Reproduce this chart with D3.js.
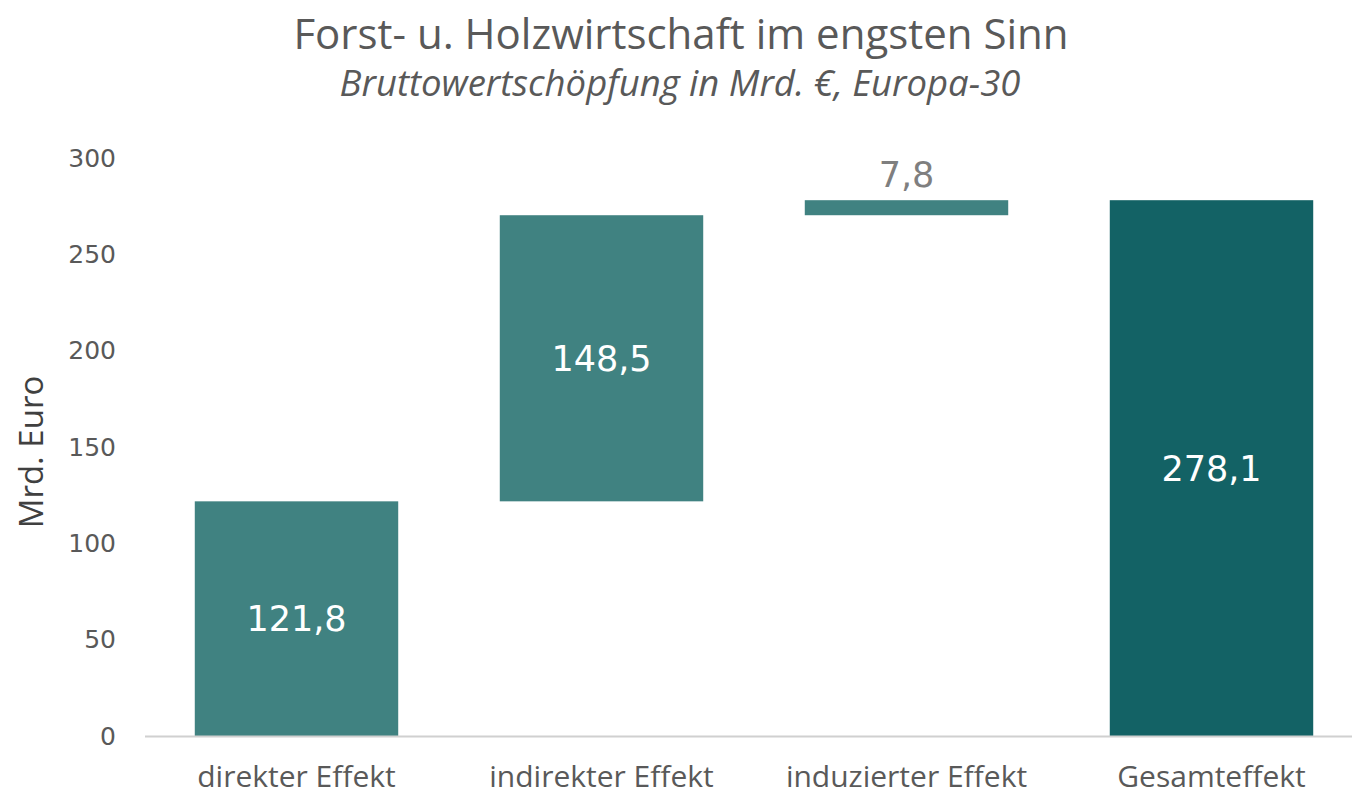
<!DOCTYPE html>
<html><head><meta charset="utf-8">
<script src="https://cdn.jsdelivr.net/npm/d3@7"></script>
<style>body{margin:0;background:#fff}svg{display:block}</style>
</head><body><svg id="c" width="1356" height="796"></svg>
<script>
const categories = ["direkter Effekt","indirekter Effekt","induzierter Effekt","Gesamteffekt"];
const values = [121.8, 148.5, 7.8, 278.1];
const isTotal = [false, false, false, true];
const labels = ["121,8","148,5","7,8","278,1"];
const yTicks = [0,50,100,150,200,250,300];
const title = "Forst- u. Holzwirtschaft im engsten Sinn";
const subtitle = "Bruttowertschöpfung in Mrd. €, Europa-30";
const yLabel = "Mrd. Euro";

// compute waterfall starts/ends
let run = 0;
const rows = categories.map((c,i)=>{
  let s, e;
  if (isTotal[i]) { s = 0; e = values[i]; }
  else { s = run; e = run + values[i]; run = e; }
  return {c, v: values[i], s, e, total: isTotal[i], label: labels[i]};
});

const svg = d3.select("#c");
const font = "'Open Sans', sans-serif";
const numFont = "'DejaVu Sans', sans-serif";
const x = d3.scaleBand().domain(categories).range([144,1364]).paddingInner(0.333).paddingOuter(0.1665);
const y = d3.scaleLinear().domain([0,300]).range([736,158]);

svg.append("text").attr("x",681).attr("y",49).attr("text-anchor","middle")
  .attr("font-family",font).attr("font-size",42).attr("fill","#595959").text(title);
svg.append("text").attr("x",680).attr("y",96).attr("text-anchor","middle")
  .attr("font-family",font).attr("font-size",36.5).attr("font-style","italic").attr("fill","#595959").text(subtitle);

// y axis tick labels
const ya = svg.append("g").attr("transform","translate(116,0)")
  .call(d3.axisLeft(y).tickValues(yTicks).tickSize(0).tickPadding(0));
ya.select(".domain").remove();
ya.selectAll("text").attr("font-family",numFont).attr("font-size",25).attr("fill","#595959");

svg.append("text").attr("transform","translate(43,452) rotate(-90)").attr("text-anchor","middle")
  .attr("font-family",font).attr("font-size",33).attr("fill","#404040").text(yLabel);

// bars
svg.append("g").selectAll("rect").data(rows).join("rect")
  .attr("x",d=>x(d.c)).attr("width",x.bandwidth())
  .attr("y",d=>y(d.e)).attr("height",d=>y(d.s)-y(d.e))
  .attr("fill",d=>d.total?"#136265":"#408281");

// baseline
svg.append("line").attr("x1",145).attr("x2",1352).attr("y1",y(0)+0.5).attr("y2",y(0)+0.5)
  .attr("stroke","#d0d0d0").attr("stroke-width",2);

// x axis labels
const xa = svg.append("g").attr("transform",`translate(0,${y(0)})`)
  .call(d3.axisBottom(x).tickSize(0).tickPadding(30));
xa.select(".domain").remove();
xa.selectAll("text").attr("font-family",font).attr("font-size",30).attr("fill","#595959");

// data labels
svg.append("g").selectAll("text").data(rows).join("text")
  .attr("x",d=>x(d.c)+x.bandwidth()/2)
  .attr("y",d=>{ const h=y(d.s)-y(d.e); return h>60 ? (y(d.s)+y(d.e))/2 : y(d.e)-13; })
  .attr("dy",d=>{ const h=y(d.s)-y(d.e); return h>60 ? "0.36em" : "0"; })
  .attr("text-anchor","middle").attr("font-family",numFont).attr("font-size",35)
  .attr("fill",d=>{ const h=y(d.s)-y(d.e); return h>60 ? "#ffffff" : "#7f7f7f"; })
  .text(d=>d.label);
</script></body></html>
